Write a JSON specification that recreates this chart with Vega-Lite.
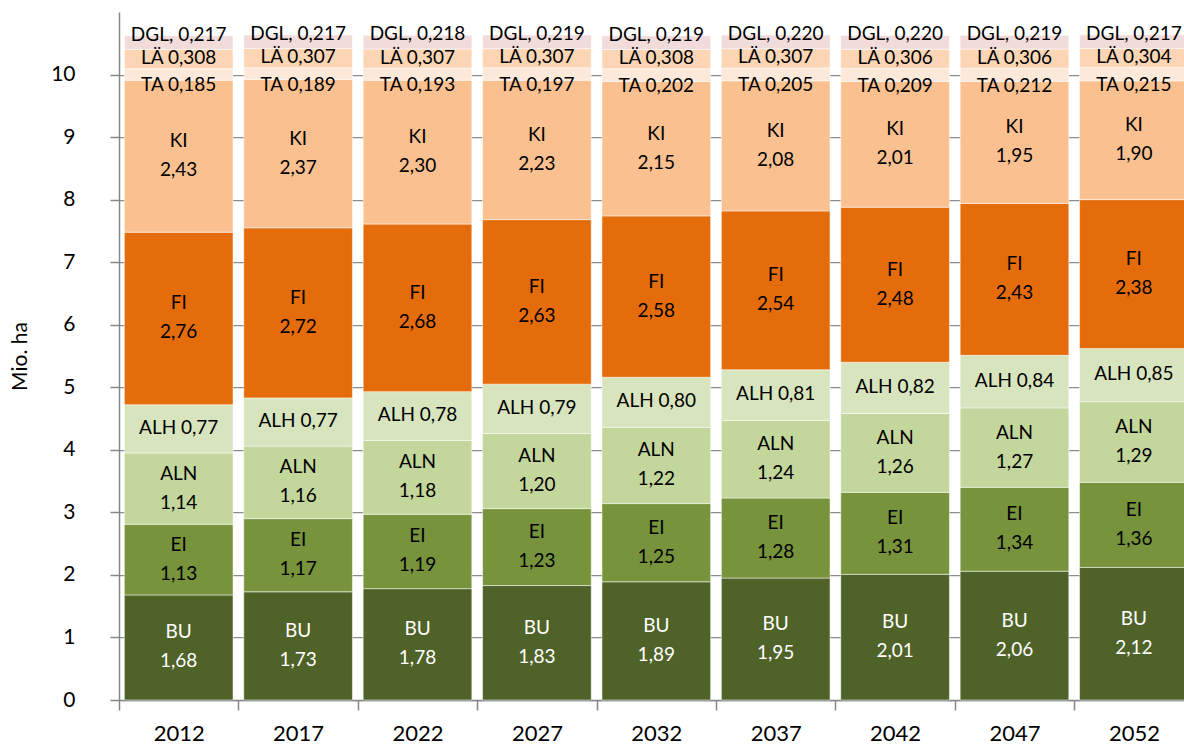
{
  "$schema": "https://vega.github.io/schema/vega-lite/v6.json",
  "width": 1065,
  "height": 688,
  "autosize": {"type": "none"},
  "padding": {"left": 119, "top": 12, "right": 0, "bottom": 44},
  "background": "#ffffff",
  "config": {"view": {"stroke": null}, "font": "Lato"},
  "data": {"values": [
    {"year":"2012","cat":"BU","v":1.68},{"year":"2012","cat":"EI","v":1.13},{"year":"2012","cat":"ALN","v":1.14},{"year":"2012","cat":"ALH","v":0.77},{"year":"2012","cat":"FI","v":2.76},{"year":"2012","cat":"KI","v":2.43},{"year":"2012","cat":"TA","v":0.185},{"year":"2012","cat":"LÄ","v":0.308},{"year":"2012","cat":"DGL","v":0.217},
    {"year":"2017","cat":"BU","v":1.73},{"year":"2017","cat":"EI","v":1.17},{"year":"2017","cat":"ALN","v":1.16},{"year":"2017","cat":"ALH","v":0.77},{"year":"2017","cat":"FI","v":2.72},{"year":"2017","cat":"KI","v":2.37},{"year":"2017","cat":"TA","v":0.189},{"year":"2017","cat":"LÄ","v":0.307},{"year":"2017","cat":"DGL","v":0.217},
    {"year":"2022","cat":"BU","v":1.78},{"year":"2022","cat":"EI","v":1.19},{"year":"2022","cat":"ALN","v":1.18},{"year":"2022","cat":"ALH","v":0.78},{"year":"2022","cat":"FI","v":2.68},{"year":"2022","cat":"KI","v":2.30},{"year":"2022","cat":"TA","v":0.193},{"year":"2022","cat":"LÄ","v":0.307},{"year":"2022","cat":"DGL","v":0.218},
    {"year":"2027","cat":"BU","v":1.83},{"year":"2027","cat":"EI","v":1.23},{"year":"2027","cat":"ALN","v":1.20},{"year":"2027","cat":"ALH","v":0.79},{"year":"2027","cat":"FI","v":2.63},{"year":"2027","cat":"KI","v":2.23},{"year":"2027","cat":"TA","v":0.197},{"year":"2027","cat":"LÄ","v":0.307},{"year":"2027","cat":"DGL","v":0.219},
    {"year":"2032","cat":"BU","v":1.89},{"year":"2032","cat":"EI","v":1.25},{"year":"2032","cat":"ALN","v":1.22},{"year":"2032","cat":"ALH","v":0.80},{"year":"2032","cat":"FI","v":2.58},{"year":"2032","cat":"KI","v":2.15},{"year":"2032","cat":"TA","v":0.202},{"year":"2032","cat":"LÄ","v":0.308},{"year":"2032","cat":"DGL","v":0.219},
    {"year":"2037","cat":"BU","v":1.95},{"year":"2037","cat":"EI","v":1.28},{"year":"2037","cat":"ALN","v":1.24},{"year":"2037","cat":"ALH","v":0.81},{"year":"2037","cat":"FI","v":2.54},{"year":"2037","cat":"KI","v":2.08},{"year":"2037","cat":"TA","v":0.205},{"year":"2037","cat":"LÄ","v":0.307},{"year":"2037","cat":"DGL","v":0.220},
    {"year":"2042","cat":"BU","v":2.01},{"year":"2042","cat":"EI","v":1.31},{"year":"2042","cat":"ALN","v":1.26},{"year":"2042","cat":"ALH","v":0.82},{"year":"2042","cat":"FI","v":2.48},{"year":"2042","cat":"KI","v":2.01},{"year":"2042","cat":"TA","v":0.209},{"year":"2042","cat":"LÄ","v":0.306},{"year":"2042","cat":"DGL","v":0.220},
    {"year":"2047","cat":"BU","v":2.06},{"year":"2047","cat":"EI","v":1.34},{"year":"2047","cat":"ALN","v":1.27},{"year":"2047","cat":"ALH","v":0.84},{"year":"2047","cat":"FI","v":2.43},{"year":"2047","cat":"KI","v":1.95},{"year":"2047","cat":"TA","v":0.212},{"year":"2047","cat":"LÄ","v":0.306},{"year":"2047","cat":"DGL","v":0.219},
    {"year":"2052","cat":"BU","v":2.12},{"year":"2052","cat":"EI","v":1.36},{"year":"2052","cat":"ALN","v":1.29},{"year":"2052","cat":"ALH","v":0.85},{"year":"2052","cat":"FI","v":2.38},{"year":"2052","cat":"KI","v":1.90},{"year":"2052","cat":"TA","v":0.215},{"year":"2052","cat":"LÄ","v":0.304},{"year":"2052","cat":"DGL","v":0.217}
  ]},
  "transform": [
    {"calculate": "indexof(['BU','EI','ALN','ALH','FI','KI','TA','LÄ','DGL'], datum.cat)", "as": "o"},
    {"stack": "v", "groupby": ["year"], "sort": [{"field": "o", "order": "ascending"}], "as": ["y0", "y1"]},
    {"calculate": "(datum.y0 + datum.y1) / 2", "as": "mid"},
    {"calculate": "datum.cat === 'DGL' ? 'DGL, ' + replace(format(datum.v, '.3f'), '.', ',') : (datum.cat === 'TA' || datum.cat === 'LÄ') ? datum.cat + ' ' + replace(format(datum.v, '.3f'), '.', ',') : datum.cat === 'ALH' ? 'ALH ' + replace(format(datum.v, '.2f'), '.', ',') : datum.cat + '|' + replace(format(datum.v, '.2f'), '.', ',')", "as": "lbl"}
  ],
  "encoding": {
    "x": {
      "field": "year", "type": "nominal", "title": null,
      "scale": {"paddingInner": 0, "paddingOuter": 0, "range": [0, 1074.6]},
      "axis": {"labelAngle": 0, "labelFontSize": 22, "labelColor": "#000000", "labelPadding": 13, "tickBand": "extent", "tickSize": 10, "tickColor": "#868686", "tickWidth": 1.5, "domainColor": "#868686", "domainWidth": 1.5}
    }
  },
  "layer": [
    {
      "mark": {"type": "bar", "width": {"band": 0.91}, "stroke": "#ffffff", "strokeWidth": 0.5},
      "encoding": {
        "y": {"field": "y0", "type": "quantitative", "title": "Mio. ha",
          "scale": {"domain": [0, 11], "nice": false},
          "axis": {"values": [0,1,2,3,4,5,6,7,8,9,10], "format": "d", "grid": true, "gridColor": "#8c8c8c", "gridWidth": 1.25, "tickSize": 9, "tickColor": "#868686", "tickWidth": 1.5, "domainColor": "#868686", "domainWidth": 1.5, "labelFontSize": 21, "labelColor": "#000000", "labelPadding": 35, "titleFontSize": 21, "titleFontWeight": "normal", "titleColor": "#000000", "titlePadding": 20}
        },
        "y2": {"field": "y1"},
        "color": {"field": "cat", "type": "nominal", "legend": null,
          "scale": {"domain": ["BU","EI","ALN","ALH","FI","KI","TA","LÄ","DGL"],
                    "range": ["#4F6228","#77933C","#C3D69B","#D7E4BD","#E46C0A","#FAC090","#FDE9D9","#FCD5B5","#F2DCDB"]}}
      }
    },
    {
      "transform": [{"filter": "indexof(['BU','EI','ALN','FI','KI'], datum.cat) >= 0"}],
      "mark": {"type": "text", "fontSize": 19, "lineBreak": "|", "lineHeight": 29, "baseline": "middle", "dy": -15},
      "encoding": {
        "y": {"field": "mid", "type": "quantitative"},
        "text": {"field": "lbl"},
        "color": {"condition": {"test": "datum.cat === 'BU'", "value": "#ffffff"}, "value": "#000000"}
      }
    },
    {
      "transform": [{"filter": "datum.cat === 'ALH' || datum.cat === 'LÄ'"}],
      "mark": {"type": "text", "fontSize": 19, "baseline": "middle", "dy": -1, "color": "#000000"},
      "encoding": {
        "y": {"field": "mid", "type": "quantitative"},
        "text": {"field": "lbl"}
      }
    },
    {
      "transform": [{"filter": "datum.cat === 'TA'"}],
      "mark": {"type": "text", "fontSize": 19, "baseline": "middle", "dy": 11, "color": "#000000"},
      "encoding": {
        "y": {"field": "mid", "type": "quantitative"},
        "text": {"field": "lbl"}
      }
    },
    {
      "transform": [{"filter": "datum.cat === 'DGL'"}],
      "mark": {"type": "text", "fontSize": 19, "baseline": "middle", "dy": -8, "color": "#000000"},
      "encoding": {
        "y": {"field": "mid", "type": "quantitative"},
        "text": {"field": "lbl"}
      }
    }
  ]
}
